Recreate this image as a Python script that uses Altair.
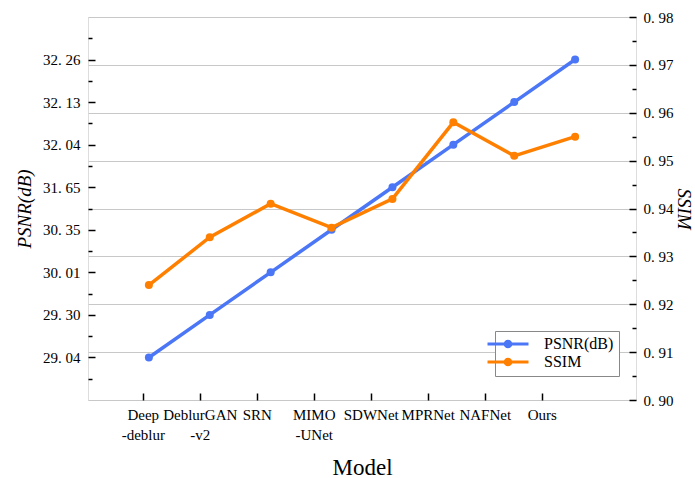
import json
import altair as alt
import pandas as pd

# ---------------- data ----------------
models = ["Deep-deblur", "DeblurGAN-v2", "SRN", "MIMO-UNet", "SDWNet", "MPRNet", "NAFNet", "Ours"]
model_lines = [["Deep", "-deblur"], ["DeblurGAN", "-v2"], ["SRN"], ["MIMO", "-UNet"],
               ["SDWNet"], ["MPRNet"], ["NAFNet"], ["Ours"]]
psnr = [29.04, 29.30, 30.01, 30.35, 31.65, 32.04, 32.13, 32.26]
ssim = [0.924, 0.934, 0.941, 0.936, 0.942, 0.958, 0.951, 0.955]
series = ["PSNR(dB)", "SSIM"]
colors = ["#4B76F6", "#FF8000"]
ssim_major = [0.90, 0.91, 0.92, 0.93, 0.94, 0.95, 0.96, 0.97, 0.98]

# ---------------- tables ----------------
sorted_psnr = sorted(psnr)
psnr_labels = [f"{v:.2f}".replace(".", ". ") for v in sorted_psnr]
df_psnr = pd.DataFrame({
    "idx": list(range(len(models))),
    "model": models,
    "rank": [sorted_psnr.index(v) for v in psnr],
    "value": psnr,
    "series": series[0],
})
df_ssim = pd.DataFrame({
    "idx": list(range(len(models))),
    "model": models,
    "value": ssim,
    "series": series[1],
})

# ---------------- style ----------------
SERIF = "Liberation Serif"
n = len(models)
x_tick_start, x_tick_step = -0.1, 0.936  # axis tick placement as in the original figure
x_ticks = [round(x_tick_start + x_tick_step * i, 4) for i in range(n)]
left_vals = [i * 0.5 for i in range(-1, 2 * n)]
right_vals = [round(ssim_major[0] + 0.005 * i, 3) for i in range(2 * (len(ssim_major) - 1) + 1)]
major_int = "abs(datum.value - round(datum.value)) < 1e-6"
major_ssim = "abs(datum.value*100 - round(datum.value*100)) < 1e-6"

color = alt.Color("series:N", scale=alt.Scale(domain=series, range=colors),
                  legend=alt.Legend(
                      title=None, orient="none", legendX=407, legendY=314,
                      direction="vertical",
                      symbolType="M-4,0L4,0M0.55,0A0.55,0.55,0,1,1,-0.55,0A0.55,0.55,0,1,1,0.55,0Z",
                      symbolSize=105, symbolStrokeWidth=3, symbolFillColor="transparent",
                      labelFont=SERIF, labelFontSize=16, labelColor="black",
                      labelOffset=28, rowPadding=0, padding=5,
                      strokeColor="#888888", fillColor="white",
                  ))

x = alt.X("idx:Q", scale=alt.Scale(domain=[-1, n]),
          axis=alt.Axis(values=x_ticks,
                        labelExpr=f"{json.dumps(model_lines)}[round((datum.value - ({x_tick_start})) / {x_tick_step})]",
                        title="Model", titleFont=SERIF, titleFontSize=23, titleFontWeight="normal",
                        titleColor="black", titlePadding=14,
                        labelFont=SERIF, labelFontSize=15, labelColor="black", labelLineHeight=20,
                        labelPadding=14, labelOverlap=False, labelFlush=False,
                        domain=False, grid=False, tickColor="black", tickWidth=1.5,
                        tickSize={"expr": "-7"}))

base_psnr = alt.Chart(df_psnr).encode(
    x=x,
    y=alt.Y("rank:Q", scale=alt.Scale(domain=[-1, n]),
            axis=alt.Axis(orient="left", values=left_vals,
                          labelExpr=f"{major_int} ? {json.dumps(psnr_labels)}[round(datum.value)] : ''",
                          tickSize={"condition": {"test": major_int, "expr": "-7"}, "expr": "-4"},
                          tickColor="black", tickWidth=1.5, domain=False, grid=False,
                          labelFont=SERIF, labelFontSize=15, labelColor="black",
                          labelPadding=15, labelOverlap=False, labelFlush=False,
                          title="PSNR(dB)", titleFont=SERIF, titleFontSize=19,
                          titleFontStyle="italic", titleFontWeight="normal", titleColor="black",
                          titlePadding=8)),
    color=color,
)
base_ssim = alt.Chart(df_ssim).encode(
    x=x,
    y=alt.Y("value:Q", scale=alt.Scale(domain=[ssim_major[0], ssim_major[-1]], zero=False, nice=False),
            axis=alt.Axis(orient="right", values=right_vals,
                          labelExpr=f"{major_ssim} ? replace(format(datum.value, '.2f'), '.', '. ') : ''",
                          tickSize={"condition": {"test": major_ssim, "expr": "-7"}, "expr": "-4"},
                          tickColor="black", tickWidth=1.5, domain=False,
                          grid=True, gridColor="#c8c8c8", gridWidth=1,
                          gridOpacity={"condition": {"test": major_ssim, "value": 1}, "value": 0},
                          labelFont=SERIF, labelFontSize=15, labelColor="black",
                          labelPadding=14, labelOverlap=False, labelFlush=False,
                          title="SSIM", titleFont=SERIF, titleFontSize=19,
                          titleFontStyle="italic", titleFontWeight="normal", titleColor="black",
                          titlePadding=0, titleAngle=90)),
    color=color,
)

line_psnr = base_psnr.mark_line(strokeWidth=3.5, point=alt.OverlayMarkDef(filled=True, size=64, opacity=1))
line_ssim = base_ssim.mark_line(strokeWidth=3.5, point=alt.OverlayMarkDef(filled=True, size=64, opacity=1))

chart = alt.layer(line_psnr, line_ssim).resolve_scale(y="independent").properties(
    width=548, height=383,
    autosize=alt.AutoSizeParams(type="none"),
    padding={"left": 88, "top": 17, "right": 59, "bottom": 78},
).configure_view(stroke="black", strokeWidth=1.5).configure(background="white")

chart.save("out.html", embed_options={"renderer": "svg", "actions": False})
